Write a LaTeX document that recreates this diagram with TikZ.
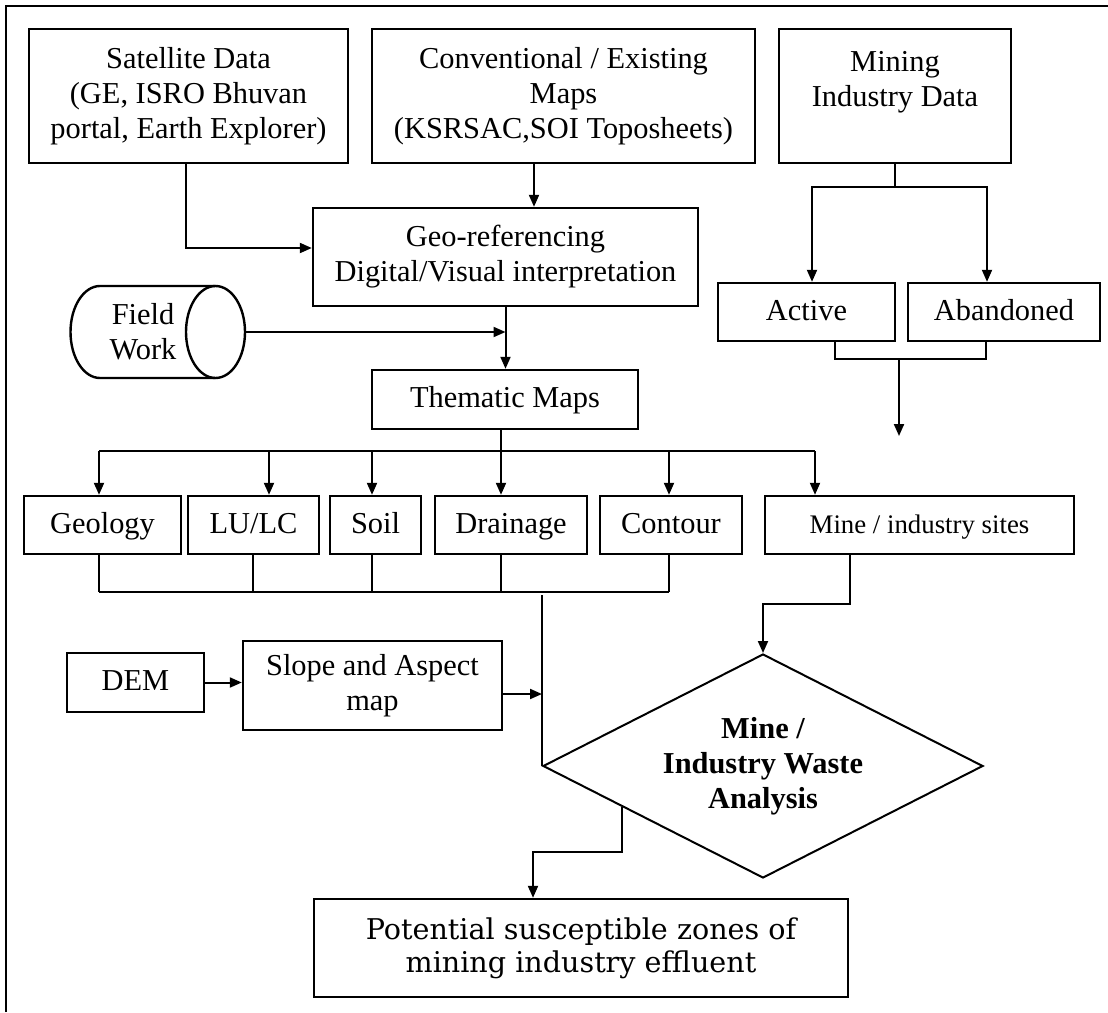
\documentclass[tikz,border=0pt]{standalone}
\usepackage{fontspec}
\setmainfont{Liberation Serif}
\newfontfamily\potfont{DejaVu Serif}
\usetikzlibrary{arrows.meta,shapes.geometric,calc}
\begin{document}
\begin{tikzpicture}[x=.5pt,y=-.5pt,
  blk/.style={draw,line width=1.2pt,inner sep=0pt,align=center,font=\fontsize{15.2}{17.5}\selectfont},
  one/.style={text height=11pt,text depth=3pt},
  sz/.style 2 args={minimum width=#1*.5pt,minimum height=#2*.5pt},
  ln/.style={line width=1pt},
  arr/.style={ln,-{Triangle[length=6pt,width=5pt]}}]
  \useasboundingbox (0,0) rectangle (1108,1012);
  \def\yt{451}\def\yb{592}
  \draw[line width=.7pt] (6,1012) -- (6,6) -- (1108,6);
  \node[blk,sz={319}{134}] (sat) at (188.5,96) {Satellite Data\\(GE, ISRO Bhuvan\\portal, Earth Explorer)};
  \node[blk,sz={383}{134}] (conv) at (563.5,96) {Conventional / Existing\\Maps\\(KSRSAC,SOI Toposheets)};
  \node[blk,sz={232}{134}] (mind) at (895,96) {Mining\\Industry Data\\~};
  \node[blk,sz={385}{98}] (geo) at (505.5,257) {Geo-referencing\\Digital/Visual interpretation};
  \draw[line width=1.2pt] (215.5,286) -- (100,286) arc[start angle=90,end angle=270,x radius=14.75pt,y radius=23pt] -- (215.5,378);
  \draw[line width=1.2pt] (215.5,332) ellipse[x radius=14.75pt,y radius=23pt];
  \node[blk,draw=none] (fieldtxt) at (143,332) {Field\\Work};
  \coordinate (field) at (245,332);
  \node[blk,one,sz={177}{58}] (act) at (806.5,312) {Active};
  \node[blk,one,sz={192}{58}] (aban) at (1004,312) {Abandoned};
  \node[blk,one,sz={266}{59}] (them) at (505,399.5) {Thematic Maps};
  \node[blk,one,sz={157}{58}] (geol) at (102.5,525) {Geology};
  \node[blk,one,sz={131}{58}] (lulc) at (253.5,525) {LU/LC};
  \node[blk,one,sz={91}{58}] (soil) at (375.5,525) {Soil};
  \node[blk,one,sz={152}{58}] (drain) at (511,525) {Drainage};
  \node[blk,one,sz={142}{58}] (cont) at (671,525) {Contour};
  \node[blk,one,sz={309}{58},font=\fontsize{13.4}{16}\selectfont] (sites) at (919.5,525) {Mine / industry sites};
  \node[blk,one,sz={137}{59}] (dem) at (135.5,682.5) {DEM};
  \node[blk,sz={259}{89}] (slope) at (372.5,685.5) {Slope and Aspect\\map};
  \node[blk,diamond,aspect=1.96,sz={440}{224},line width=1pt,font=\bfseries\fontsize{15.2}{17.5}\selectfont] (wa) at (763,766) {Mine /\\Industry Waste\\Analysis};
  \node[blk,sz={534}{98},font=\potfont\fontsize{14.3}{16.5}\selectfont] (pot) at (581,948) {Potential susceptible zones of\\mining industry effluent};
  \coordinate (mfree) at (899,436);
  \draw[arr] (sat.south -| 186,0) |- (geo.west |- 0,248);
  \draw[arr] (conv.south -| 534,0) -- (geo.north -| 534,0);
  \draw[arr] (geo.south) -- (them.north -| geo.south);
  \draw[arr] (field) -- (geo.south |- field);
  \draw[arr] (mind.south) -- ++(0,23) -| (act.north -| 812,0);
  \draw[arr] (mind.south) -- ++(0,23) -| (aban.north -| 987,0);
  \draw[ln] (act.south -| 835,0) -- (835,359) -- (986,359) -- (aban.south -| 986,0);
  \draw[arr] (899,359) -- (mfree);
  \draw[ln] (them.south -| 501,0) -- (501,\yt);
  \draw[ln] (99,\yt) -- (815,\yt);
  \foreach \n/\x in {geol/99,lulc/269,soil/372,drain/501,cont/669,sites/815}
    \draw[arr] (\x,\yt) -- (\n.north -| \x,0);
  \foreach \n/\x in {geol/99,lulc/253,soil/372,drain/501,cont/669}
    \draw[ln] (\n.south -| \x,0) -- (\x,\yb);
  \draw[ln] (99,\yb) -- (669,\yb);
  \draw[ln] (wa.west |- 0,595) -- (wa.west);
  \draw[arr] (dem.east) -- (slope.west |- dem.east);
  \draw[arr] (slope.east |- 0,694) -- (wa.west |- 0,694);
  \draw[arr] (sites.south -| 850,0) |- (wa.north |- 0,604) -- (wa.north);
  \draw[arr] ($(wa.west)!.36!(wa.south)$) |- (533,852) -- (pot.north -| 533,0);
\end{tikzpicture}
\end{document}
